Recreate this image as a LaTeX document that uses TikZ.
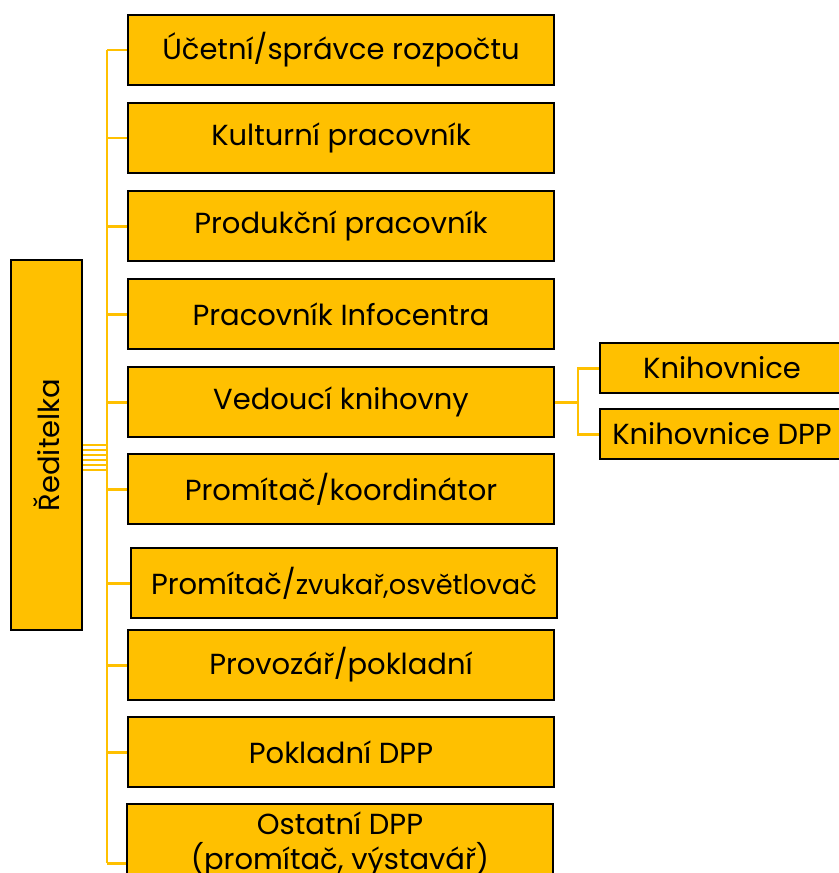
\documentclass[tikz,border=0pt]{standalone}
\usepackage{fontspec}
\setmainfont{Poppins}
\usepackage{tikz}

\definecolor{gold}{HTML}{FFC000}

\begin{document}
\begin{tikzpicture}[x=0.02cm,y=-0.02cm,
  box/.style={draw=black,line width=1.1pt,fill=gold,minimum width=8.52cm,minimum height=1.4cm,inner sep=1pt,font=\fontsize{16.5}{20}\selectfont,align=center},
  subbox/.style={box,minimum width=4.88cm,minimum height=1cm},
  conn/.style={draw=gold,line width=1.7pt}]
\useasboundingbox (0,0) rectangle (839,873);
\clip (0,0) rectangle (839,873);

\node[box,minimum width=1.42cm,minimum height=7.4cm] (red) at (46.5,445) {};
\node[rotate=90,font=\fontsize{16.5}{20}\selectfont] (redtext) at (red.center) {Ředitelka};

\node[box] (ucet) at (341,50) {Účetní/správce rozpočtu};
\node[box] (kult) at (341,138) {Kulturní pracovník};
\node[box] (prod) at (341,226) {Produkční pracovník};
\node[box] (info) at (341,314) {Pracovník Infocentra};
\node[box] (ved) at (341,402) {Vedoucí knihovny};
\node[box] (koord) at (341,489) {Promítač/koordinátor};
\node[box] (zvuk) at (344,583) {Promítač/{\fontsize{15.5}{17}\selectfont zvukař,osvětlovač}};
\node[box] (prov) at (341,665) {Provozář/pokladní};
\node[box] (pokl) at (341,752) {Pokladní DPP};
\node[box,minimum height=1.6cm] (ost) at (340,844) {Ostatní DPP\\(promítač, výstavář)};

\node[subbox] (kn) at (722,368) {Knihovnice};
\node[subbox] (kndpp) at (722,434) {Knihovnice DPP};

\coordinate (top) at (107,50);
\coordinate (bot) at (107,863);
\draw[conn] (top) -- (bot);
\draw[conn] (ucet.west) -- (ucet.west -| top);
\draw[conn] (kult.west) -- (kult.west -| top);
\draw[conn] (prod.west) -- (prod.west -| top);
\draw[conn] (info.west) -- (info.west -| top);
\draw[conn] (ved.west) -- (ved.west -| top);
\draw[conn] (koord.west) -- (koord.west -| top);
\draw[conn] (zvuk.west) -- (zvuk.west -| top);
\draw[conn] (prov.west) -- (prov.west -| top);
\draw[conn] (pokl.west) -- (pokl.west -| top);
\draw[conn] (bot) -- (bot -| ost.west);

\foreach \d in {0,5,...,25}
  \draw[draw=gold,line width=0.8pt] ([yshift=-\d*0.02cm]red.east) -- ([yshift=-\d*0.02cm]red.east -| top);

\coordinate (split) at (578,402);
\draw[conn] (ved.east) -- (split);
\draw[conn] (kn.west) -| (split) |- (kndpp.west);
\end{tikzpicture}
\end{document}
